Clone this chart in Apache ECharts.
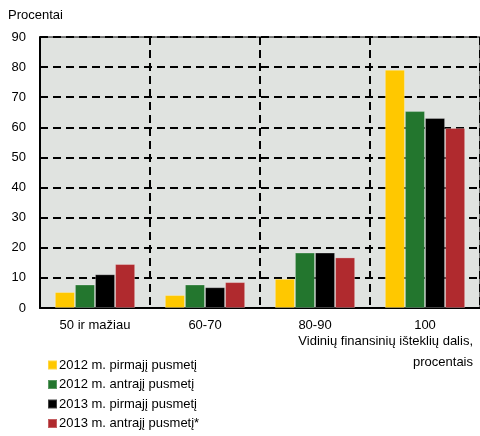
<!DOCTYPE html>
<html><head><meta charset="utf-8">
<script src="https://cdn.jsdelivr.net/npm/echarts@6/dist/echarts.min.js"></script>
<style>html,body{margin:0;padding:0;background:#fff}#c{width:480px;height:436px}</style>
</head><body><div id="c"></div>
<script>
const categories = ['50 ir mažiau', '60-70', '80-90', '100'];
const seriesNames = ['2012 m. pirmajį pusmetį', '2012 m. antrajį pusmetį', '2013 m. pirmajį pusmetį', '2013 m. antrajį pusmetį*'];
const s2012h1 = [5.3, 4.3, 9.7, 79.1];
const s2012h2 = [7.8, 7.8, 18.4, 65.4];
const s2013h1 = [11.2, 6.9, 18.4, 63.1];
const s2013h2 = [14.6, 8.6, 16.8, 59.8];
const colors = ['#FFC800', '#23762E', '#000000', '#B02A2E'];
const values = [s2012h1, s2012h2, s2013h1, s2013h2];

const chart = echarts.init(document.getElementById('c'));
const font = '"Liberation Sans", Arial, sans-serif';
chart.setOption({
  animation: false,
  textStyle: { fontFamily: font },
  grid: { left: 40, right: 0, top: 37, bottom: 128, show: true, backgroundColor: '#E0E3E0', borderColor: '#000', borderWidth: 1 },
  graphic: [
    { type: 'text', left: 8, top: 9, style: { text: 'Procentai', fontFamily: font, fontSize: 13, fill: '#000' } },
    { type: 'text', right: 7, top: 335, style: { text: 'Vidinių finansinių išteklių dalis,', fontFamily: font, fontSize: 13, fill: '#000' } },
    { type: 'text', right: 7, top: 356, style: { text: 'procentais', fontFamily: font, fontSize: 13, fill: '#000' } }
  ],
  legend: {
    orient: 'vertical', left: 42, top: 353, height: 100, itemWidth: 9, itemHeight: 9, itemGap: 5.5, icon: 'rect',
    textStyle: { fontFamily: font, fontSize: 13, color: '#000', padding: [0, 0, 0, -3], lineHeight: 14 },
    data: seriesNames
  },
  xAxis: {
    type: 'category', data: categories,
    axisLine: { lineStyle: { color: '#000', width: 2 } },
    axisTick: { show: false },
    axisLabel: { color: '#000', fontSize: 13, margin: 11 },
    splitLine: { show: true, lineStyle: { color: '#000', width: 2, type: [8, 5] } }
  },
  yAxis: {
    type: 'value', min: 0, max: 90, interval: 10,
    axisLine: { show: true, lineStyle: { color: '#000', width: 2 } },
    axisTick: { show: false },
    axisLabel: { color: '#000', fontSize: 13, margin: 14 },
    splitLine: { show: true, lineStyle: { color: '#000', width: 2, type: [8, 5] } }
  },
  series: values.map((v, i) => ({
    name: seriesNames[i], type: 'bar', data: v, barGap: '0%', barCategoryGap: '27%',
    itemStyle: { color: colors[i], borderColor: 'rgba(255,255,255,0.25)', borderWidth: 1 }
  }))
});
</script></body></html>
